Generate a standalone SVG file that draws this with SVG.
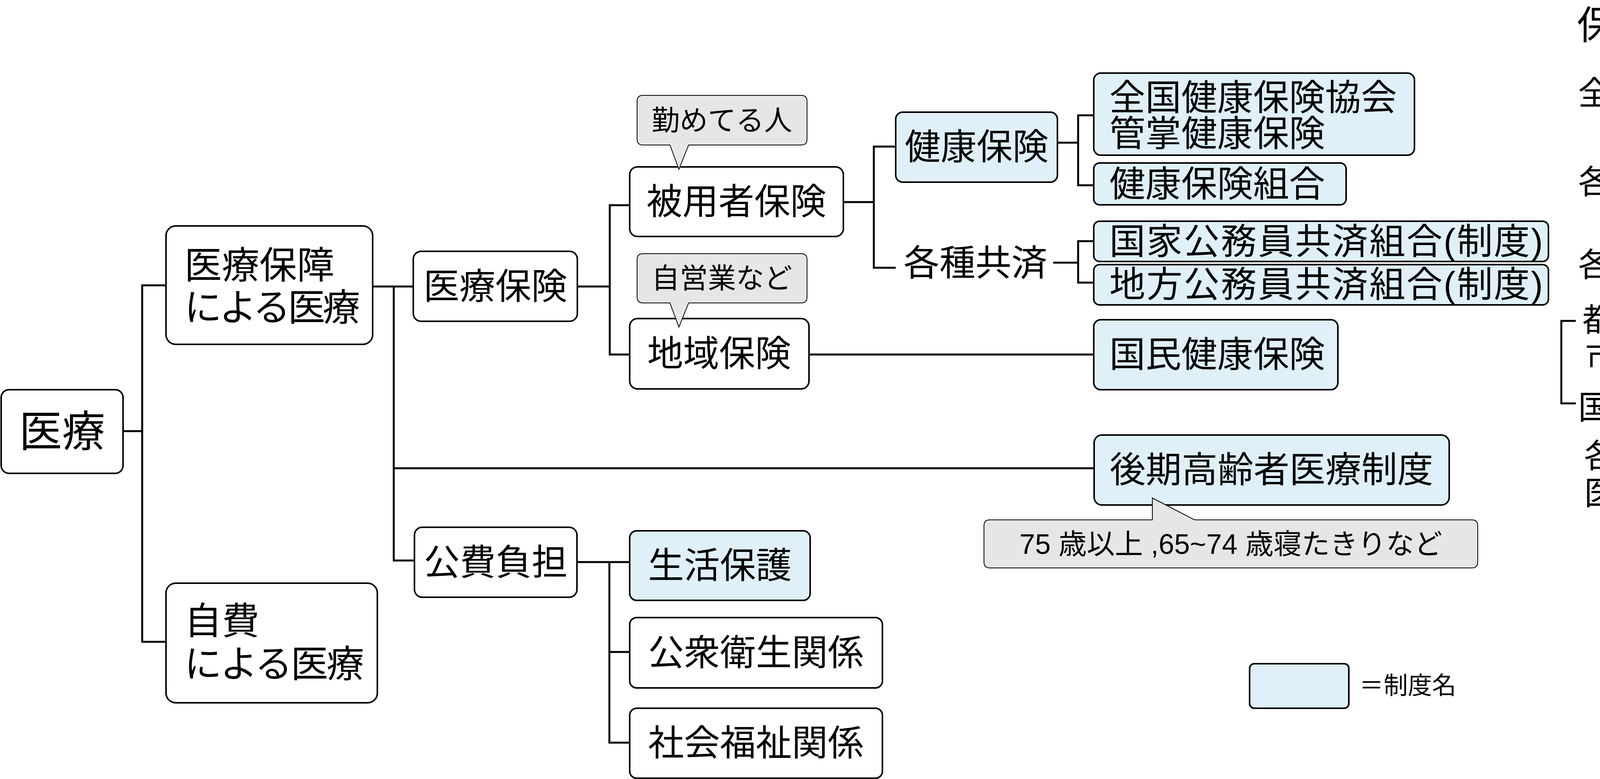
<svg xmlns="http://www.w3.org/2000/svg" width="4795" height="1993" viewBox="0 0 4795 1993">
<style>
text{font-family:"Liberation Sans","Noto Sans CJK JP",sans-serif;fill:#000}
.b{fill:#fff;stroke:#000;stroke-width:4}
.s{fill:#dff0f9;stroke:#000;stroke-width:4}
.c{fill:#e6e6e6;stroke:#000;stroke-width:2}
.t{font-size:92px;text-anchor:middle}
.l{font-size:92px}
.m{font-size:72px;text-anchor:middle}
.r{font-size:84px}
#conn line,#conn polyline{stroke:#000;stroke-width:5;fill:none}
</style>
<g id="conn">
<line x1="311" y1="1103" x2="364" y2="1103"/>
<polyline points="427,730 364,730 364,1642 427,1642"/>
<line x1="954" y1="733" x2="1058" y2="733"/>
<polyline points="1008,733 1008,1434 1061,1434"/>
<line x1="1008" y1="1198" x2="2801" y2="1198"/>
<line x1="1478" y1="733" x2="1561" y2="733"/>
<polyline points="1612,525 1561,525 1561,907 1612,907"/>
<line x1="2159" y1="517" x2="2237" y2="517"/>
<polyline points="2293,375 2237,375 2237,685 2293,685"/>
<line x1="2707" y1="365" x2="2760" y2="365"/>
<polyline points="2800,295 2760,295 2760,474 2800,474"/>
<line x1="2696" y1="672" x2="2760" y2="672"/>
<polyline points="2800,617 2760,617 2760,723 2800,723"/>
<line x1="2071" y1="907" x2="2800" y2="907"/>
<line x1="1477" y1="1438" x2="1612" y2="1438"/>
<polyline points="1560,1438 1560,1900 1612,1900"/>
<line x1="1560" y1="1668" x2="1612" y2="1668"/>
<polyline points="4034,821 3997,821 3997,1032 4034,1032"/>
</g>
<g id="n-iryo"><rect class="b" x="3" y="997" width="312" height="214" rx="20"/><text x="159" y="1143" font-size="110" text-anchor="middle">医療</text></g>
<g id="n-hosho"><rect class="b" x="425" y="578" width="529" height="303" rx="25"/><text x="472" y="712" font-size="96">医療保障</text><text x="472" y="820" font-size="96" textLength="450">による医療</text></g>
<g id="n-jihi"><rect class="b" x="425" y="1492" width="541" height="306" rx="25"/><text x="472" y="1622" font-size="96">自費</text><text x="472" y="1732" font-size="96" textLength="460">による医療</text></g>
<g id="n-hoken"><rect class="b" x="1058" y="643" width="420" height="179" rx="20"/><text class="t" x="1268" y="765">医療保険</text></g>
<g id="n-kohi"><rect class="b" x="1061" y="1349" width="416" height="179" rx="20"/><text class="t" x="1269" y="1471">公費負担</text></g>
<g id="n-hiyo"><rect class="b" x="1612" y="427" width="547" height="178" rx="20"/><text class="t" x="1885" y="548">被用者保険</text></g>
<g id="n-chiiki"><rect class="b" x="1612" y="815" width="459" height="180" rx="20"/><text class="t" x="1841" y="937">地域保険</text></g>
<g id="c-tsutome"><path class="c" d="M1646,244 H2051 Q2066,244 2066,259 V356 Q2066,371 2051,371 H1763 L1738,433 L1715,371 H1646 Q1631,371 1631,356 V259 Q1631,244 1646,244 Z"/><text class="m" x="1848" y="333">勤めてる人</text></g>
<g id="c-jiei"><path class="c" d="M1646,649 H2051 Q2066,649 2066,664 V760 Q2066,775 2051,775 H1763 L1738,837 L1715,775 H1646 Q1631,775 1631,760 V664 Q1631,649 1646,649 Z"/><text class="m" x="1848" y="737">自営業など</text></g>
<g id="n-kenko"><rect class="s" x="2293" y="287" width="414" height="179" rx="18"/><text class="t" x="2500" y="408">健康保険</text></g>
<g id="n-kakushu"><text class="l" x="2313" y="705">各種共済</text></g>
<g id="n-zenkoku"><rect class="s" x="2800" y="187" width="821" height="210" rx="18"/><text class="l" x="2840" y="282">全国健康保険協会</text><text class="l" x="2840" y="374">管掌健康保険</text></g>
<g id="n-kumiai"><rect class="s" x="2800" y="417" width="646" height="107" rx="15"/><text class="l" x="2840" y="503">健康保険組合</text></g>
<g id="n-kokka"><rect class="s" x="2800" y="566" width="1164" height="103" rx="15"/><text class="l" x="2840" y="650" textLength="1110">国家公務員共済組合(制度)</text></g>
<g id="n-chiho"><rect class="s" x="2800" y="677" width="1164" height="103" rx="15"/><text class="l" x="2840" y="760" textLength="1110">地方公務員共済組合(制度)</text></g>
<g id="n-kokumin"><rect class="s" x="2800" y="818" width="625" height="179" rx="18"/><text class="l" x="2840" y="939">国民健康保険</text></g>
<g id="n-koki"><rect class="s" x="2801" y="1113" width="909" height="179" rx="20"/><text class="t" x="3255" y="1234">後期高齢者医療制度</text></g>
<g id="c-75"><path class="c" d="M2534,1330 H2950 L2950,1274 L3058,1330 H3768 Q3783,1330 3783,1345 V1438 Q3783,1453 3768,1453 H2534 Q2519,1453 2519,1438 V1345 Q2519,1330 2534,1330 Z"/><text class="m" x="3151" y="1417">75 歳以上 ,65~74 歳寝たきりなど</text></g>
<g id="n-seikatsu"><rect class="s" x="1612" y="1358" width="462" height="178" rx="18"/><text class="t" x="1843" y="1479">生活保護</text></g>
<g id="n-koshu"><rect class="b" x="1612" y="1580" width="647" height="180" rx="18"/><text class="t" x="1935" y="1702">公衆衛生関係</text></g>
<g id="n-shakai"><rect class="b" x="1612" y="1812" width="647" height="179" rx="18"/><text class="t" x="1935" y="1933">社会福祉関係</text></g>
<g id="legend"><rect class="s" x="3199" y="1698" width="254" height="114" rx="12"/><text x="3480" y="1776" font-size="62">＝制度名</text></g>
<g id="hokensha">
<text x="4037" y="100" font-size="100">保険者</text>
<text class="r" x="4040" y="268" textLength="745">全国健康保険協会</text>
<text class="r" x="4040" y="495" textLength="650">各健康保険協会</text>
<text class="r" x="4040" y="707" textLength="465">各共済組合</text>
<text class="r" x="4051" y="848" textLength="510">都道府県、</text>
<text class="r" x="4058" y="943" textLength="660">市町村、 特別区</text>
<text class="r" x="4040" y="1072" textLength="740">国民健康保険組合</text>
<text class="r" x="4055" y="1196" textLength="555">各後期高齢者</text>
<text class="r" x="4055" y="1291" textLength="555">医療広域連合</text>
</g>
</svg>
